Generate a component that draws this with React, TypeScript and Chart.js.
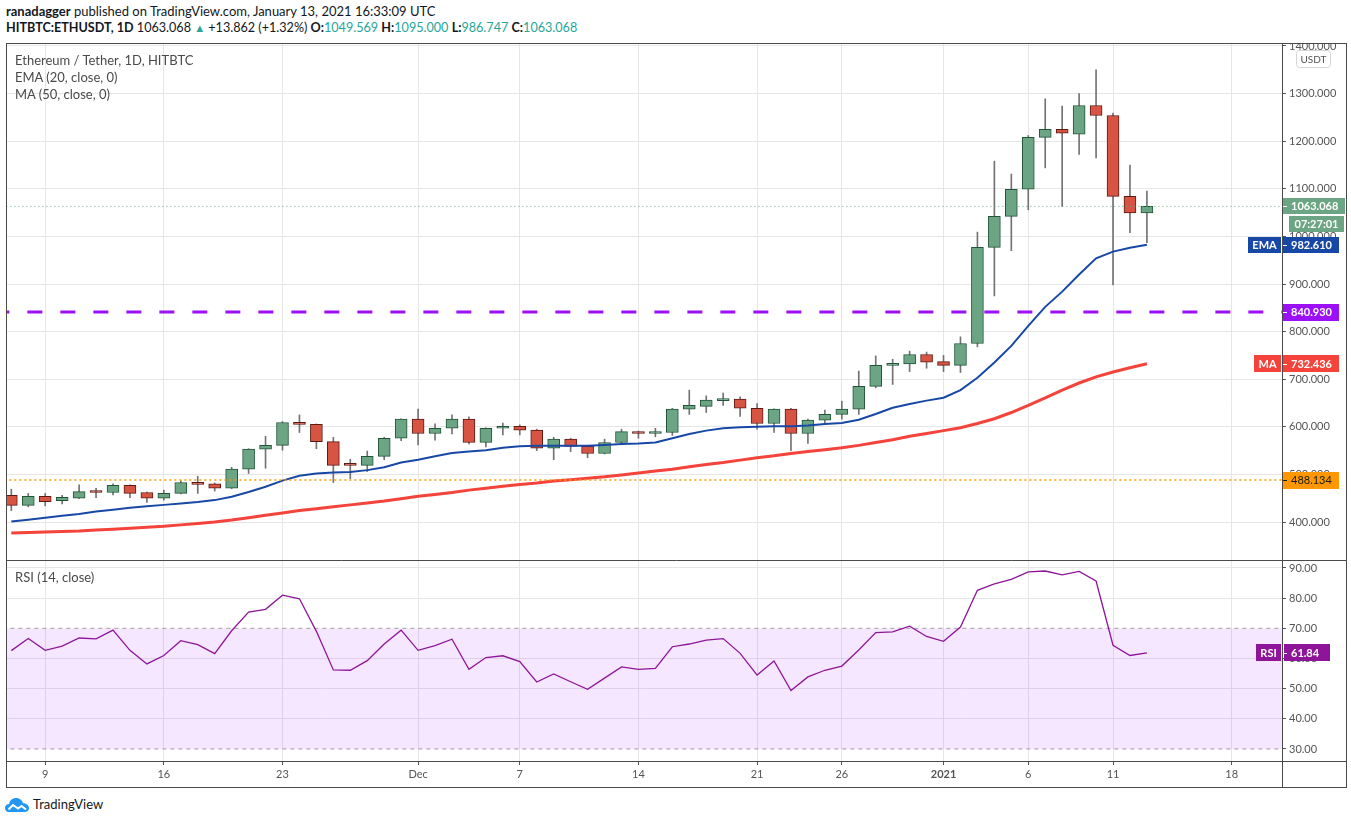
import React, { useEffect, useRef } from 'react';
import { Chart, registerables } from 'chart.js';

Chart.register(...registerables);

const FONT = 'Lato, "Noto Sans", sans-serif';

// Daily candles, 2020-11-07 .. 2021-01-13 (index = position on x axis)
const dates = [
  '2020-11-07','2020-11-08','2020-11-09','2020-11-10','2020-11-11','2020-11-12','2020-11-13','2020-11-14',
  '2020-11-15','2020-11-16','2020-11-17','2020-11-18','2020-11-19','2020-11-20','2020-11-21','2020-11-22',
  '2020-11-23','2020-11-24','2020-11-25','2020-11-26','2020-11-27','2020-11-28','2020-11-29','2020-11-30',
  '2020-12-01','2020-12-02','2020-12-03','2020-12-04','2020-12-05','2020-12-06','2020-12-07','2020-12-08',
  '2020-12-09','2020-12-10','2020-12-11','2020-12-12','2020-12-13','2020-12-14','2020-12-15','2020-12-16',
  '2020-12-17','2020-12-18','2020-12-19','2020-12-20','2020-12-21','2020-12-22','2020-12-23','2020-12-24',
  '2020-12-25','2020-12-26','2020-12-27','2020-12-28','2020-12-29','2020-12-30','2020-12-31','2021-01-01',
  '2021-01-02','2021-01-03','2021-01-04','2021-01-05','2021-01-06','2021-01-07','2021-01-08','2021-01-09',
  '2021-01-10','2021-01-11','2021-01-12','2021-01-13',
];

const opens = [
  456, 435, 454, 445, 450, 465, 462, 477, 462, 450,
  460, 483, 480, 471, 511, 553, 561, 609, 605, 569,
  521, 519, 538, 576, 616, 586, 597, 616, 567, 597,
  601, 593, 555, 574, 559, 544, 567, 590, 586, 588,
  637, 643, 655, 658, 639, 607, 637, 586, 614, 626,
  637, 685, 729, 732, 752, 737, 729, 775, 977, 1042,
  1099, 1208, 1225, 1215, 1275, 1254, 1084, 1049.569,
];
const highs = [
  469, 460, 460, 456, 478, 471, 480, 478, 463, 467,
  487, 496, 482, 515, 554, 580, 611, 625, 606, 578,
  532, 549, 578, 617, 637, 606, 625, 621, 598, 608,
  604, 595, 578, 576, 561, 574, 595, 591, 597, 639,
  677, 665, 671, 663, 649, 638, 639, 616, 635, 654,
  717, 749, 742, 759, 757, 750, 789, 1009, 1158, 1131,
  1212, 1289, 1274, 1300, 1350, 1259, 1150, 1095,
];
const lows = [
  424, 432, 434, 438, 449, 451, 457, 451, 441, 446,
  459, 460, 465, 470, 502, 513, 551, 588, 554, 483,
  491, 506, 531, 571, 562, 572, 585, 564, 558, 583,
  583, 550, 531, 548, 535, 543, 563, 576, 579, 582,
  626, 630, 645, 622, 595, 588, 550, 565, 605, 616,
  626, 682, 689, 716, 723, 716, 714, 768, 875, 970,
  1056, 1144, 1063, 1172, 1165, 898, 1008, 986.747,
];
const closes = [
  435, 454, 443, 452, 464, 462, 477, 460, 450, 460,
  483, 479, 471, 511, 553, 561, 609, 605, 569, 519,
  519, 538, 576, 616, 586, 597, 616, 567, 597, 601,
  593, 555, 574, 559, 544, 567, 590, 586, 589, 637,
  645, 656, 657, 639, 607, 637, 586, 614, 626, 637,
  685, 729, 732, 752, 736, 729, 775, 977, 1042, 1099,
  1208, 1225, 1217, 1275, 1254, 1084, 1049.5, 1063.068,
];
const ema20 = [
  401, 405, 409, 413, 417, 422, 426, 430, 433, 436,
  439, 442, 446, 453, 463, 474, 487, 497, 502, 504,
  505, 509, 515, 525, 531, 538, 545, 548, 551, 556,
  559, 560, 560, 560, 560, 562, 564, 565, 567, 576,
  585, 592, 597, 599, 600, 601, 601, 603, 606, 608,
  615, 627, 640, 648, 655, 661, 677, 703, 735, 770,
  812, 852, 884, 920, 954, 968, 976, 982.61,
];
const ma50 = [
  377, 378, 379, 380, 381, 383, 385, 387, 389, 391,
  394, 397, 400, 404, 409, 414, 419, 424, 428, 432,
  436, 440, 444, 449, 454, 458, 462, 467, 471, 475,
  479, 482, 486, 489, 492, 495, 499, 503, 507, 511,
  516, 521, 525, 530, 535, 539, 544, 548, 552, 556,
  561, 567, 573, 580, 586, 592, 598, 607, 617, 630,
  645, 661, 677, 692, 705, 715, 724, 732.436,
];
const rsi14 = [
  62.6, 66.6, 62.7, 64.1, 66.8, 66.5, 69.4, 62.7, 58.2, 61.0,
  65.9, 64.6, 61.6, 69.2, 75.4, 76.3, 81.0, 79.8, 69.0, 56.2,
  56.1, 59.3, 64.8, 69.4, 62.7, 64.3, 66.4, 56.4, 60.3, 60.9,
  59.0, 52.2, 54.9, 52.3, 49.8, 53.5, 57.2, 56.4, 56.7, 63.9,
  64.8, 66.1, 66.6, 61.7, 54.5, 59.2, 49.4, 53.9, 56.1, 57.5,
  62.8, 68.6, 68.8, 70.7, 67.3, 65.7, 70.4, 82.6, 84.7, 86.2,
  88.7, 89.0, 87.7, 88.9, 85.7, 64.4, 61.0, 61.84,
];

const xTickPos = [2, 9, 16, 24, 30, 37, 44, 49, 55, 60, 65, 72];
const xTickLabels = ['9', '16', '23', 'Dec', '7', '14', '21', '26', '2021', '6', '11', '18'];
const priceTicks = [400, 500, 600, 700, 800, 900, 1000, 1100, 1200, 1300, 1400];
const rsiTicks = [30, 40, 50, 60, 70, 80, 90];

const supportLevel = 840.93;
const orangeLevel = 488.134;
const lastPrice = 1063.068;
const rsiUpper = 70;
const rsiLower = 30;

const GREEN = '#6BA583';
const GREEN_DARK = '#225437';
const RED = '#D75442';
const RED_DARK = '#5B1A13';
const EMA_COLOR = '#1848A6';
const MA_COLOR = '#F4433A';
const PURPLE = '#9C10F7';
const ORANGE = '#FF9800';
const RSI_COLOR = '#8E1599';

function box(ctx: CanvasRenderingContext2D, x: number, yc: number, w: number, h: number, bg: string, text: string, color: string, align: 'left' | 'center', tx?: number) {
  ctx.fillStyle = bg;
  ctx.fillRect(x, Math.round(yc - h / 2), w, h);
  ctx.fillStyle = color;
  ctx.textBaseline = 'middle';
  ctx.textAlign = align;
  ctx.fillText(text, align === 'center' ? x + w / 2 : (tx ?? x + 8), yc + 0.5);
}

const overlayPlugin = {
  id: 'tvOverlay',
  afterDraw(chart: any) {
    const ctx: CanvasRenderingContext2D = chart.ctx;
    const { right, bottom } = chart.chartArea;
    const y = chart.scales.y;
    const yr = chart.scales.yRsi;
    const W = chart.width;
    const H = chart.height;
    ctx.save();
    ctx.strokeStyle = '#4a4a4a';
    ctx.lineWidth = 1;
    ctx.strokeRect(0.5, 0.5, W - 1, H - 1);
    ctx.beginPath();
    const sep = Math.round(y.bottom) + 0.5;
    ctx.moveTo(0, sep); ctx.lineTo(W, sep);
    const rx = Math.round(right) + 0.5;
    ctx.moveTo(rx, 0); ctx.lineTo(rx, H);
    const bx = Math.round(bottom) + 0.5;
    ctx.moveTo(0, bx); ctx.lineTo(W, bx);
    ctx.stroke();

    const R = Math.round(right);
    const tick = (yc: number, col = '#ffffff') => {
      ctx.strokeStyle = col;
      ctx.beginPath();
      ctx.moveTo(R + 1, Math.round(yc) + 0.5);
      ctx.lineTo(R + 5, Math.round(yc) + 0.5);
      ctx.stroke();
    };

    // USDT unit box
    ctx.fillStyle = '#ffffff';
    ctx.strokeStyle = '#d6d6d6';
    ctx.beginPath();
    if ((ctx as any).roundRect) (ctx as any).roundRect(R + 14.5, 7.5, 34, 17, 3); else ctx.rect(R + 14.5, 7.5, 34, 17);
    ctx.fill();
    ctx.stroke();
    ctx.fillStyle = '#555';
    ctx.font = `10px ${FONT}`;
    ctx.textAlign = 'center';
    ctx.textBaseline = 'middle';
    ctx.fillText('USDT', R + 31.5, 16.5);

    ctx.font = `bold 11px ${FONT}`;
    // last price + countdown
    const yl = y.getPixelForValue(lastPrice);
    box(ctx, R + 1, yl, 62, 16, GREEN, lastPrice.toFixed(3), '#fff', 'left', R + 9);
    tick(yl);
    box(ctx, R + 7, yl + 18, 55, 16, GREEN, '07:27:01', '#fff', 'center');

    // EMA
    const emaLast = ema20[ema20.length - 1];
    const ye = y.getPixelForValue(emaLast);
    box(ctx, R - 34, ye, 33, 16, EMA_COLOR, 'EMA', '#fff', 'center');
    box(ctx, R + 1, ye, 56, 16, EMA_COLOR, emaLast.toFixed(3), '#fff', 'left', R + 9);
    tick(ye);

    // support level
    const ys = y.getPixelForValue(supportLevel);
    box(ctx, R + 1, ys, 56, 17, PURPLE, supportLevel.toFixed(3), '#fff', 'left', R + 9);
    tick(ys);

    // MA
    const maLast = ma50[ma50.length - 1];
    const ym = y.getPixelForValue(maLast);
    box(ctx, R - 28, ym, 27, 17, MA_COLOR, 'MA', '#fff', 'center');
    box(ctx, R + 1, ym, 56, 17, MA_COLOR, maLast.toFixed(3), '#fff', 'left', R + 9);
    tick(ym);

    // orange level
    const yo = y.getPixelForValue(orangeLevel);
    ctx.font = `11px ${FONT}`;
    box(ctx, R + 1, yo, 56, 17, ORANGE, orangeLevel.toFixed(3), '#1a1a1a', 'left', R + 9);
    tick(yo, '#1a1a1a');

    // RSI
    ctx.font = `bold 11px ${FONT}`;
    const rsiLast = rsi14[rsi14.length - 1];
    const yv = yr.getPixelForValue(rsiLast);
    box(ctx, R - 26, yv, 25, 17, RSI_COLOR, 'RSI', '#fff', 'center');
    box(ctx, R + 2, yv, 46, 17, RSI_COLOR, rsiLast.toFixed(2), '#fff', 'left', R + 9);
    tick(yv);
    ctx.restore();
  },
};

export default function App() {
  const ref = useRef<HTMLCanvasElement | null>(null);

  useEffect(() => {
    if (!ref.current) return;
    const up = closes.map((c, i) => c >= opens[i]);
    const xy = (arr: number[]) => arr.map((v, i) => ({ x: i, y: v }));
    const flat = (v: number) => [{ x: -1, y: v }, { x: dates.length + 12, y: v }];
    const noPadY = (s: any) => { s.width = 64; s.paddingTop = 0; s.paddingBottom = 0; };

    const chart = new Chart(ref.current, {
      type: 'line',
      data: {
        datasets: [
          {
            type: 'bar', label: 'wicks', xAxisID: 'x', yAxisID: 'y',
            data: lows.map((l, i) => ({ x: i, y: [l, highs[i]] })) as any,
            backgroundColor: '#737375', borderWidth: 0, barThickness: 1, grouped: false, order: 9, clip: 0,
          } as any,
          {
            type: 'bar', label: 'candles', xAxisID: 'x', yAxisID: 'y',
            data: opens.map((o, i) => ({ x: i, y: [o, closes[i]] })) as any,
            backgroundColor: up.map((u) => (u ? GREEN : RED)),
            borderColor: up.map((u) => (u ? GREEN_DARK : RED_DARK)),
            borderWidth: 1, borderSkipped: false, barThickness: 12, grouped: false, minBarLength: 2, order: 8, clip: 0,
          } as any,
          {
            label: 'MA 50', data: xy(ma50), yAxisID: 'y', borderColor: MA_COLOR, borderWidth: 3,
            pointRadius: 0, tension: 0, order: 5, clip: 0,
          },
          {
            label: 'EMA 20', data: xy(ema20), yAxisID: 'y', borderColor: EMA_COLOR, borderWidth: 2,
            pointRadius: 0, tension: 0, order: 4, clip: 0,
          },
          {
            label: 'support', data: flat(supportLevel), yAxisID: 'y', borderColor: PURPLE, borderWidth: 3,
            borderDash: [15, 18], pointRadius: 0, order: 2, clip: 0,
          },
          {
            label: 'orange', data: flat(orangeLevel), yAxisID: 'y', borderColor: ORANGE, borderWidth: 1.5,
            borderDash: [2, 3], pointRadius: 0, order: 2, clip: 0,
          },
          {
            label: 'last', data: flat(lastPrice), yAxisID: 'y', borderColor: GREEN, borderWidth: 1,
            borderDash: [1, 3], pointRadius: 0, order: 2, clip: 0,
          },
          {
            label: 'rsi upper', data: flat(rsiUpper), yAxisID: 'yRsi', borderColor: '#a0a0a0', borderWidth: 1,
            borderDash: [4, 4], pointRadius: 0, fill: '+1', backgroundColor: 'rgba(153, 21, 255, 0.1)', order: 7, clip: 0,
          },
          {
            label: 'rsi lower', data: flat(rsiLower), yAxisID: 'yRsi', borderColor: '#a0a0a0', borderWidth: 1,
            borderDash: [4, 4], pointRadius: 0, fill: false, order: 7, clip: 0,
          },
          {
            label: 'RSI 14', data: xy(rsi14), yAxisID: 'yRsi', borderColor: RSI_COLOR, borderWidth: 1.3,
            pointRadius: 0, tension: 0, order: 1, clip: 0,
          },
        ],
      },
      options: {
        animation: false,
        responsive: true,
        maintainAspectRatio: false,
        events: [],
        layout: { padding: { left: 1, right: 1, top: 1, bottom: 1 } },
        plugins: { legend: { display: false }, tooltip: { enabled: false } },
        scales: {
          x: {
            type: 'linear', min: -0.254, max: 74.97, offset: false,
            afterBuildTicks: (s: any) => { s.ticks = xTickPos.map((v) => ({ value: v })); },
            afterFit: (s: any) => { s.height = 26; s.paddingLeft = 0; s.paddingRight = 0; },
            grid: { color: '#e6e6e6', offset: false, tickColor: '#555', tickLength: 4 },
            border: { color: '#4a4a4a' },
            ticks: {
              autoSkip: false, maxRotation: 0, color: '#555', padding: 3,
              font: (c: any) => ({ family: FONT, size: 11, weight: c.tick && c.tick.label === '2021' ? 'bold' : 'normal' }),
              callback: (v: any) => { const k = xTickPos.indexOf(Number(v)); return k >= 0 ? xTickLabels[k] : ''; },
            },
          },
          y: {
            type: 'linear', position: 'right', stack: 'panes', stackWeight: 516,
            min: 320.2, max: 1404.2,
            afterBuildTicks: (s: any) => { s.ticks = priceTicks.map((v) => ({ value: v })); },
            afterFit: noPadY,
            grid: { color: '#e6e6e6', tickColor: '#555', tickLength: 4 },
            border: { color: '#4a4a4a' },
            ticks: { color: '#555', padding: 3, font: { family: FONT, size: 11 }, callback: (v: any) => Number(v).toFixed(3) },
          },
          yRsi: {
            type: 'linear', position: 'right', stack: 'panes', stackWeight: 201,
            min: 26.02, max: 92.65,
            afterBuildTicks: (s: any) => { s.ticks = rsiTicks.map((v) => ({ value: v })); },
            afterFit: noPadY,
            grid: {
              color: (c: any) => (c.tick && (c.tick.value === rsiUpper || c.tick.value === rsiLower) ? 'rgba(0,0,0,0)' : '#e6e6e6'),
              tickColor: '#555', tickLength: 4,
            },
            border: { color: '#4a4a4a' },
            ticks: { color: '#555', padding: 3, font: { family: FONT, size: 11 }, callback: (v: any) => Number(v).toFixed(2) },
          },
        },
      } as any,
      plugins: [overlayPlugin],
    });
    return () => chart.destroy();
  }, []);

  const teal = '#26A69A';
  return (
    <div style={{ position: 'relative', width: 1351, height: 824, background: '#fff', fontFamily: FONT, color: '#131722' }}>
      <style>{'body{margin:0;background:#fff;}'}</style>
      <div style={{ position: 'absolute', left: 6, top: 3, fontSize: 13, whiteSpace: 'nowrap' }}>
        <b>ranadagger</b> published on TradingView.com, January 13, 2021 16:33:09 UTC
      </div>
      <div style={{ position: 'absolute', left: 6, top: 20, fontSize: 12.6, whiteSpace: 'nowrap' }}>
        <b>HITBTC:ETHUSDT, 1D</b> 1063.068 <span style={{ color: teal, fontSize: 11 }}>▲</span> +13.862 (+1.32%){' '}
        <b>O:</b><span style={{ color: teal }}>1049.569</span> <b>H:</b><span style={{ color: teal }}>1095.000</span>{' '}
        <b>L:</b><span style={{ color: teal }}>986.747</span> <b>C:</b><span style={{ color: teal }}>1063.068</span>
      </div>
      <div style={{ position: 'absolute', left: 6, top: 43, width: 1341, height: 745 }}>
        <canvas ref={ref} />
      </div>
      <div style={{ position: 'absolute', left: 15, top: 52, fontSize: 13, color: '#4a4a4a', lineHeight: '17px', pointerEvents: 'none' }}>
        <div>Ethereum / Tether, 1D, HITBTC</div>
        <div>EMA (20, close, 0)</div>
        <div>MA (50, close, 0)</div>
      </div>
      <div style={{ position: 'absolute', left: 15, top: 569, fontSize: 13, color: '#4a4a4a', lineHeight: '17px' }}>RSI (14, close)</div>
      <svg width="24" height="16" viewBox="0 0 24 16" style={{ position: 'absolute', left: 5, top: 797 }}>
        <path d="M4 15 C1 15 0 13 0 11 C0 8.5 2 7 4.2 7 C4.6 3.2 7.6 1 11 1 C14.5 1 17.2 3.2 18 6.2 C21.5 6.2 24 8.5 24 11.2 C24 13.6 22 15 19.5 15 Z" fill="#2196F3" />
        <polyline points="3.5,12.5 8,8 13,11.5 16.5,9 21,12.5" stroke="#fff" strokeWidth="2" fill="none" />
      </svg>
      <div style={{ position: 'absolute', left: 33, top: 796, fontSize: 13, color: '#131722' }}>TradingView</div>
    </div>
  );
}
